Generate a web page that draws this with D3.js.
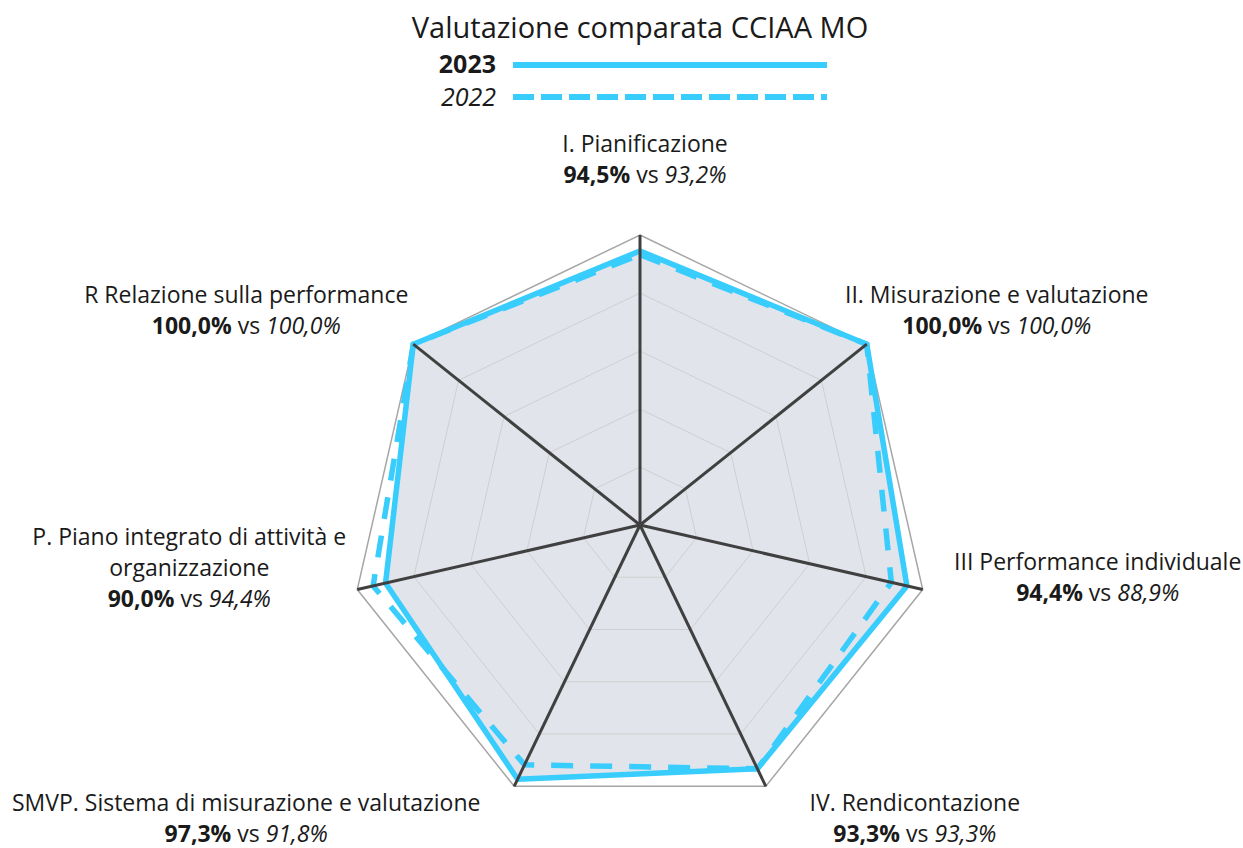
<!DOCTYPE html>
<html>
<head>
<meta charset="utf-8">
<script src="https://cdn.jsdelivr.net/npm/d3@7"></script>
<style>
  body { margin: 0; background: #fff; }
  svg { display: block; font-family: "Open Sans", "Noto Sans", sans-serif; }
</style>
</head>
<body>
<svg id="chart" width="1243" height="848"></svg>
<script>
// data
var categories = [
    ["I. Pianificazione"],
    ["II. Misurazione e valutazione"],
    ["III Performance individuale"],
    ["IV. Rendicontazione"],
    ["SMVP. Sistema di misurazione e valutazione"],
    ["P. Piano integrato di attività e", "organizzazione"],
    ["R Relazione sulla performance"]
];
var values2023 = [94.5, 100.0, 94.4, 93.3, 97.3, 90.0, 100.0];
var values2022 = [93.2, 100.0, 88.9, 93.3, 91.8, 94.4, 100.0];
var gridLevels = [20, 40, 60, 80, 100];
var seriesNames = ["2023", "2022"];
var title = "Valutazione comparata CCIAA MO";

// layout
var width = 1243, height = 848;
var cx = 640, cy = 525, radius = 290;
var blue = "#38cdfd";
var lineH = 31;
// where each label's first baseline sits, relative to its outer vertex
var labelNudge = [[5, -83], [130, -41], [175, -20], [149, 25], [-268, 25], [-168, -45], [-167, -41]];

var svg = d3.select("#chart");
var g = svg.append("g").attr("transform", "translate(" + cx + "," + cy + ")");

var r = d3.scaleLinear().domain([0, 100]).range([0, radius]);
var angle = d3.scalePoint()
    .domain(d3.range(categories.length))
    .range([0, 2 * Math.PI * (categories.length - 1) / categories.length]);

const point = (i, v) => {
    let a = angle(i);
    return [r(v) * Math.sin(a), -r(v) * Math.cos(a)];
}

var radial = d3.lineRadial()
    .angle(function(d, i) { return angle(i); })
    .radius(function(d) { return r(d); })
    .curve(d3.curveLinearClosed);

// filled area for 2023
g.append("path")
    .attr("d", radial(values2023))
    .attr("fill", "#e1e4eb");

// grid rings
g.selectAll(".ring")
    .data(gridLevels)
    .enter()
    .append("path")
    .attr("class", "ring")
    .attr("d", function(lv) { return radial(categories.map(function() { return lv; })); })
    .attr("fill", "none")
    .attr("stroke", function(lv) { return lv == 100 ? "#a6a6a6" : "#cfcfcf"; })
    .attr("stroke-width", function(lv) { return lv == 100 ? 1.5 : 1; });

// series lines
g.append("path")
    .attr("d", radial(values2022))
    .attr("fill", "none")
    .attr("stroke", blue)
    .attr("stroke-width", 5.5)
    .attr("stroke-dasharray", "22,17");

g.append("path")
    .attr("d", radial(values2023))
    .attr("fill", "none")
    .attr("stroke", blue)
    .attr("stroke-width", 5.5)
    .attr("stroke-linejoin", "round");

// axis spokes
g.selectAll(".spoke")
    .data(categories)
    .enter()
    .append("line")
    .attr("class", "spoke")
    .attr("x1", 0).attr("y1", 0)
    .attr("x2", function(d, i) { return point(i, 100)[0]; })
    .attr("y2", function(d, i) { return point(i, 100)[1]; })
    .attr("stroke", "#404040")
    .attr("stroke-width", 3);

// category labels
var fmtLocale = d3.formatLocale({decimal: ",", thousands: ".", grouping: [3], currency: ["", "€"]});
var pct = fmtLocale.format(".1f");

var labels = g.selectAll(".cat-label")
    .data(categories)
    .enter()
    .append("text")
    .attr("class", "cat-label")
    .attr("text-anchor", "middle")
    .attr("font-size", 23)
    .attr("fill", "#1a1a1a");

labels.each(function(lines, i) {
    let t = d3.select(this);
    let p = point(i, 100);
    let x = p[0] + labelNudge[i][0];
    let y = p[1] + labelNudge[i][1];
    lines.forEach(function(line, k) {
        t.append("tspan").attr("x", x).attr("y", y + k * lineH).text(line);
    });
    let vy = y + lines.length * lineH;
    t.append("tspan").attr("x", x).attr("y", vy)
        .attr("font-weight", "bold").text(pct(values2023[i]) + "%");
    t.append("tspan").text(" vs ");
    t.append("tspan").attr("font-style", "italic").text(pct(values2022[i]) + "%");
});

// title
svg.append("text")
    .attr("x", cx)
    .attr("y", 38)
    .attr("text-anchor", "middle")
    .attr("font-size", 29)
    .attr("fill", "#1a1a1a")
    .text(title);

// legend
var legend = svg.selectAll(".legend")
    .data(seriesNames)
    .enter()
    .append("g")
    .attr("class", "legend")
    .attr("transform", function(d, i) { return "translate(0," + (65 + i * 32) + ")"; });

legend.append("line")
    .attr("x1", 513).attr("x2", 827)
    .attr("stroke", blue)
    .attr("stroke-width", 6)
    .attr("stroke-dasharray", function(d, i) { return i == 0 ? null : "21,7"; });

legend.append("text")
    .attr("x", 496)
    .attr("y", function(d, i) { return i == 0 ? 8 : 9; })
    .attr("text-anchor", "end")
    .attr("font-size", 25)
    .attr("font-weight", function(d, i) { return i == 0 ? "bold" : "normal"; })
    .attr("font-style", function(d, i) { return i == 0 ? "normal" : "italic"; })
    .attr("fill", "#1a1a1a")
    .text(function(d) { return d; });
</script>
</body>
</html>
